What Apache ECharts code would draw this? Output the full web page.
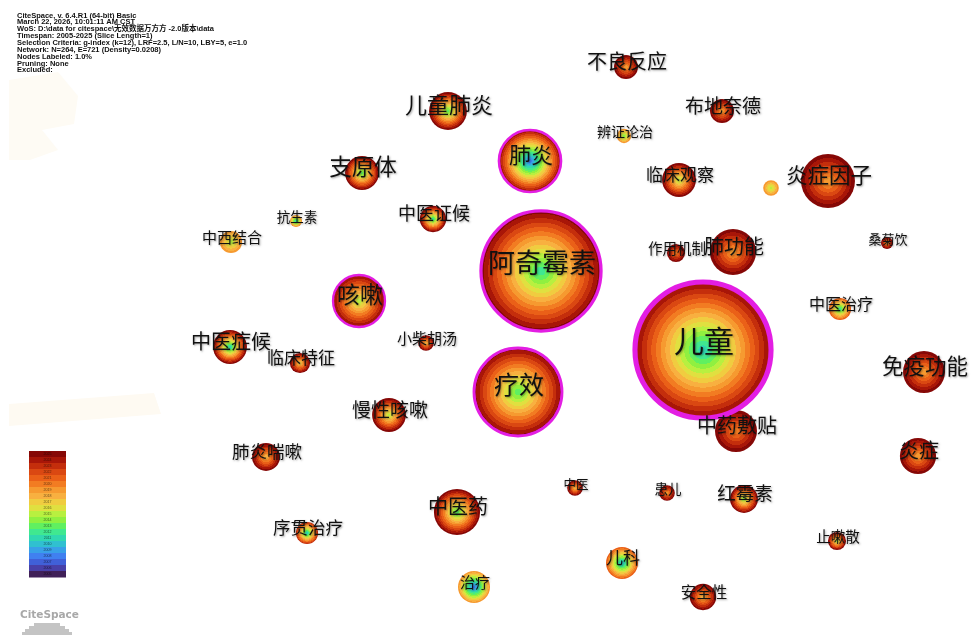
<!DOCTYPE html>
<html>
<head>
<meta charset="utf-8">
<script src="https://cdn.jsdelivr.net/npm/echarts@6/dist/echarts.min.js"></script>
<style>
html,body{margin:0;padding:0;background:#ffffff;}
#main{width:971px;height:635px;}
</style>
</head>
<body>
<div id="main"></div>
<script>
// ---------------- DATA ----------------
const labels = ['儿童','阿奇霉素','疗效','肺炎','咳嗽','炎症因子','肺功能','中药敷贴','免疫功能','中医药',
  '儿童肺炎','炎症','支原体','临床观察','中医症候','慢性咳嗽','儿科','治疗','肺炎喘嗽','红霉素',
  '中医证候','安全性','不良反应','布地奈德','中西结合','中医治疗','序贯治疗','临床特征','作用机制','止嗽散',
  '小柴胡汤','中医','患儿','','辨证论治','抗生素','桑菊饮'];
const layoutX = [703,541,518,530,359,828,733,736,924,457,
  448,918,362,679,230,389,622,474,266,744,
  433,703,626,722,231,840,307,300,676,837,
  426,575,667,771,624,296,887];
const layoutY = [350,271,392,161,301,181,252,431,372,512,
  111,456,173,180,347,415,563,587,457,499,
  219,597,67,111,242,309,533,363,253,541,
  343,488,493,188,136,221,243];
const freq = [452,352,189,94,66,71,52,43,43,52,
  35,32,28,28,28,28,25,25,19,19,
  17,17,14,14,12,12,12,10,8,8,
  6,6,6,6,5,3.5,3.5];
const firstYear = [2011,2012,2013,2008,2015,2019,2019,2020,2019,2013,
  2013,2019,2013,2015,2011,2015,2010,2008,2018,2014,
  2012,2018,2019,2019,2015,2012,2011,2017,2020,2015,
  2018,2018,2019,2015,2014,2011,2019];
const lastYear = [2025,2025,2025,2025,2025,2025,2025,2025,2025,2025,
  2025,2025,2025,2025,2025,2025,2021,2019,2025,2025,
  2025,2025,2025,2025,2019,2021,2023,2025,2025,2025,
  2025,2025,2025,2019,2019,2019,2025];
const centrality = [0.45,0.22,0.17,0.14,0.10,0.02,0.03,0.02,0.01,0.04,
  0.03,0.01,0.03,0.02,0.02,0.02,0.02,0.01,0.01,0.01,
  0.01,0.01,0.01,0.01,0.00,0.01,0.01,0.00,0.00,0.00,
  0.00,0.00,0.00,0.00,0.00,0.00,0.00];
const legendYears = [2025,2024,2023,2022,2021,2020,2019,2018,2017,2016,2015,2014,2013,2012,2011,2010,2009,2008,2007,2006,2005];
const headerLines = [
  'CiteSpace, v. 6.4.R1 (64-bit) Basic',
  'March 22, 2026, 10:01:11 AM CST',
  'WoS: D:\\data for citespace\\无效数据万方方 -2.0版本\\data',
  'Timespan: 2005-2025 (Slice Length=1)',
  'Selection Criteria: g-index (k=12), LRF=2.5, L/N=10, LBY=5, e=1.0',
  'Network: N=264, E=721 (Density=0.0208)',
  'Nodes Labeled: 1.0%',
  'Pruning: None',
  'Excluded:'
];

// ---------------- STYLE ----------------
// year colour palette, index = year - 2005
const palette = ['#402058','#4840a8','#4060d8','#4080f0','#38a0e8','#30c0d0','#30d8b0','#40e890','#60f060','#90f040',
  '#b8f040','#e0e040','#f0cc40','#f8b040','#f69a30','#f27c22','#ea6018','#da4812','#c42e0c','#a81608','#860806'];
const labelFont = {'儿童':30,'阿奇霉素':27,'疗效':25,'肺炎':22,'咳嗽':23,'炎症因子':21.5,'免疫功能':21.5,'肺功能':20,
  '儿童肺炎':22,'支原体':22.5,'不良反应':20,'中医症候':20,'中药敷贴':20,'中医药':20,'炎症':20,'慢性咳嗽':19,
  '布地奈德':19,'红霉素':18.5,'中医证候':18,'临床观察':17,'临床特征':17,'肺炎喘嗽':17.5,'序贯治疗':17.5,'安全性':15.5,
  '儿科':17,'作用机制':14.5,'中医治疗':16,'小柴胡汤':15,'中西结合':15,'抗生素':13.5,'辨证论治':14,'止嗽散':14.5,
  '治疗':15,'桑菊饮':13,'中医':12.5,'患儿':13.5};

function ringGradient(first, last) {
  const years = [];
  for (let y = first; y <= last; y++) years.push(y);
  const n = years.length;
  const stops = [];
  years.forEach((y, i) => {
    const c = palette[y - 2005];
    stops.push({offset: i / n, color: c});
    stops.push({offset: (i + 1) / n, color: c});
  });
  return {type: 'radial', x: 0.5, y: 0.5, r: 0.5, colorStops: stops};
}

const nodeSize = f => 2 * 3.2 * Math.sqrt(f);

const order = labels.map((l, i) => i).sort((a, b) => freq[a] - freq[b]);
const nodes = order.map(i => {
  const central = centrality[i] >= 0.1;
  return {
    name: labels[i],
    value: [layoutX[i], layoutY[i], freq[i]],
    symbolSize: nodeSize(freq[i]),
    itemStyle: {
      color: ringGradient(firstYear[i], lastYear[i]),
      borderColor: central ? '#e31ee3' : 'rgba(0,0,0,0)',
      borderWidth: central ? 1.5 + centrality[i] * 8 : 0,
      opacity: 1
    },
    label: {
      show: labels[i] !== '',
      fontSize: labelFont[labels[i]] || 12
    }
  };
});

const graphics = [];
// faint background shapes
graphics.push({type:'polygon', shape:{points:[[9,80],[58,72],[78,96],[74,124],[42,130],[58,150],[30,160],[9,160]]}, style:{fill:'#fefbf4'}, z:-10, silent:true});
graphics.push({type:'polygon', shape:{points:[[9,404],[154,393],[161,414],[9,426]]}, style:{fill:'#fefaf2'}, z:-10, silent:true});
// header text
headerLines.forEach((t, i) => {
  graphics.push({type:'text', x:17, y:15.5 + i * 6.85, style:{text:t, fontSize:7.5, fontWeight:'bold', fontFamily:'Liberation Sans, Noto Sans CJK SC', fill:'#111', textVerticalAlign:'middle'}, z:10, silent:true});
});
// colour legend
const bandH = 126 / legendYears.length;
legendYears.forEach((yr, i) => {
  graphics.push({type:'rect', shape:{x:29, y:451 + i * bandH, width:37, height:bandH + 0.4}, style:{fill:palette[yr - 2005]}, z:10, silent:true});
  graphics.push({type:'text', x:47.5, y:451 + i * bandH + bandH / 2, style:{text:String(yr), fontSize:3.6, fontFamily:'Liberation Sans', fill:'rgba(0,0,0,0.6)', textAlign:'center', textVerticalAlign:'middle'}, z:11, silent:true});
});
// logo
graphics.push({type:'text', x:20, y:610, style:{text:'CiteSpace', fontSize:10.5, fontWeight:'bold', fontFamily:'DejaVu Sans, Liberation Sans', fill:'#a8a8a8'}, z:10, silent:true});
[[34,623,26,3],[29,626,36,3],[25,629,44,3],[22,632,50,3]].forEach(r => {
  graphics.push({type:'rect', shape:{x:r[0], y:r[1], width:r[2], height:r[3]}, style:{fill:'#c4c4c4'}, z:10, silent:true});
});

const chart = echarts.init(document.getElementById('main'), null, {renderer:'canvas'});
chart.setOption({
  backgroundColor: '#ffffff',
  animation: false,
  grid: {left:0, right:0, top:0, bottom:0},
  xAxis: {type:'value', min:0, max:971, show:false},
  yAxis: {type:'value', min:0, max:635, inverse:true, show:false},
  graphic: graphics,
  series: [{
    type: 'scatter',
    symbol: 'circle',
    data: nodes,
    itemStyle: {opacity: 1},
    label: {
      show: true,
      position: 'inside',
      formatter: p => p.name,
      color: '#111',
      fontFamily: 'Noto Sans CJK SC',
      textShadowColor: 'rgba(0,0,0,0.35)',
      textShadowBlur: 2,
      textShadowOffsetX: 1,
      textShadowOffsetY: 1
    },
    labelLayout: function (params) {
      const fs = labelFont[labels[order[params.dataIndex]]] || 12;
      return {dx: 1, dy: -0.3 * fs};
    },
    emphasis: {disabled: true}
  }]
});
</script>
</body>
</html>
